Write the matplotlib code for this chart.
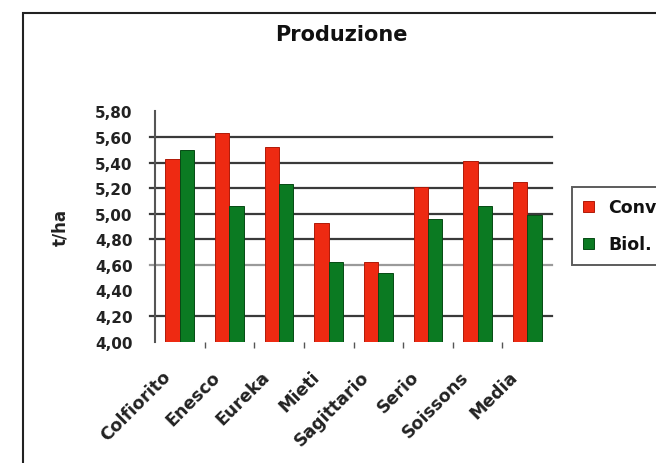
import matplotlib
matplotlib.use("Agg")
import matplotlib.pyplot as plt
import matplotlib.transforms as mtransforms
from matplotlib.patches import Rectangle
import numpy as np

categories = ["Colfiorito", "Enesco", "Eureka", "Mieti", "Sagittario", "Serio", "Soissons", "Media"]
conv = [5.43, 5.63, 5.52, 4.93, 4.62, 5.21, 5.41, 5.25]
biol = [5.50, 5.06, 5.23, 4.62, 4.54, 4.96, 5.06, 4.99]
series_labels = ["Conv.", "Biol."]
yticks = [4.00, 4.20, 4.40, 4.60, 4.80, 5.00, 5.20, 5.40, 5.60, 5.80]
grid_vals = [4.20, 4.60, 4.80, 5.00, 5.20, 5.40, 5.60]

plt.rcParams['font.family'] = ['DejaVu Sans']

W, H = 656, 464
fig = plt.figure(figsize=(W / 100, H / 100), dpi=100)
fig.patch.set_facecolor('white')

ax = fig.add_axes([155 / W, 1 - 342.6 / H, (552 - 155) / W, (342.6 - 112.4) / H])
x = np.arange(len(categories))
bw = 0.29
red = '#EE2A12'
green = '#0B7A22'

for gv in grid_vals:
    col = '#9a9a9a' if abs(gv - 4.6) < 1e-9 else '#3a3a3a'
    ax.axhline(gv, xmin=-0.0126, xmax=1.0, color=col, lw=1.6, zorder=1, clip_on=False)

b1 = ax.bar(x - bw / 2, conv, width=bw, color=red, edgecolor='#b01a08', linewidth=0.7,
            zorder=3, label=series_labels[0])
b2 = ax.bar(x + bw / 2, biol, width=bw, color=green, edgecolor='#064a14', linewidth=0.7,
            zorder=3, label=series_labels[1])

ax.set_xlim(-0.5, len(categories) - 0.5)
ax.set_ylim(4.0, 5.8)
ax.set_yticks(yticks)
ax.set_yticklabels([f"{v:.2f}".replace('.', ',') for v in yticks],
                   fontsize=11, fontweight='bold', color='#222222')
ax.tick_params(axis='y', length=0, pad=16)

ax.set_xticks(x)
ax.set_xticklabels(categories, rotation=45, ha='right', va='center',
                   rotation_mode='anchor', fontsize=12.5, fontweight='bold', color='#222222')
ax.tick_params(axis='x', which='major', length=0, pad=23)
offset = mtransforms.ScaledTranslation(-0.12, 0, fig.dpi_scale_trans)
for lbl in ax.get_xticklabels():
    lbl.set_transform(lbl.get_transform() + offset)
ax.set_xticks(np.arange(len(categories) - 1) + 0.5, minor=True)
ax.tick_params(axis='x', which='minor', length=4, width=1, color='#555555', direction='out', pad=0)

for s in ['top', 'right', 'bottom']:
    ax.spines[s].set_visible(False)
ax.spines['left'].set_color('#555555')
ax.spines['left'].set_linewidth(1.5)
ax.set_facecolor('none')

fig.text(341 / W, 1 - 35 / H, "Produzione", ha='center', va='center',
         fontsize=15, fontweight='bold', color='#111111')
fig.text(60 / W, 1 - 228 / H, "t/ha", ha='center', va='center', rotation=90,
         fontsize=12, fontweight='bold', color='#222222')

leg = fig.legend(handles=[b1, b2], labels=series_labels, loc='upper left',
                 bbox_to_anchor=(572 / W, 1 - 188 / H), bbox_transform=fig.transFigure,
                 frameon=True, fancybox=False, borderaxespad=0, borderpad=0.65,
                 handlelength=0.6, handleheight=0.6, handletextpad=0.85, labelspacing=1.1,
                 prop={'size': 12.5, 'weight': 'bold'})
leg.get_frame().set_edgecolor('#333333')
leg.get_frame().set_linewidth(1.4)
for t in leg.get_texts():
    t.set_color('#111111')

border = Rectangle((22.5 / W, -0.1), 1.2, 1 - 13.5 / H + 0.1, transform=fig.transFigure,
                   fill=False, edgecolor='#222222', linewidth=1.5)
fig.patches.append(border)

fig.savefig('out.png', dpi=100)
